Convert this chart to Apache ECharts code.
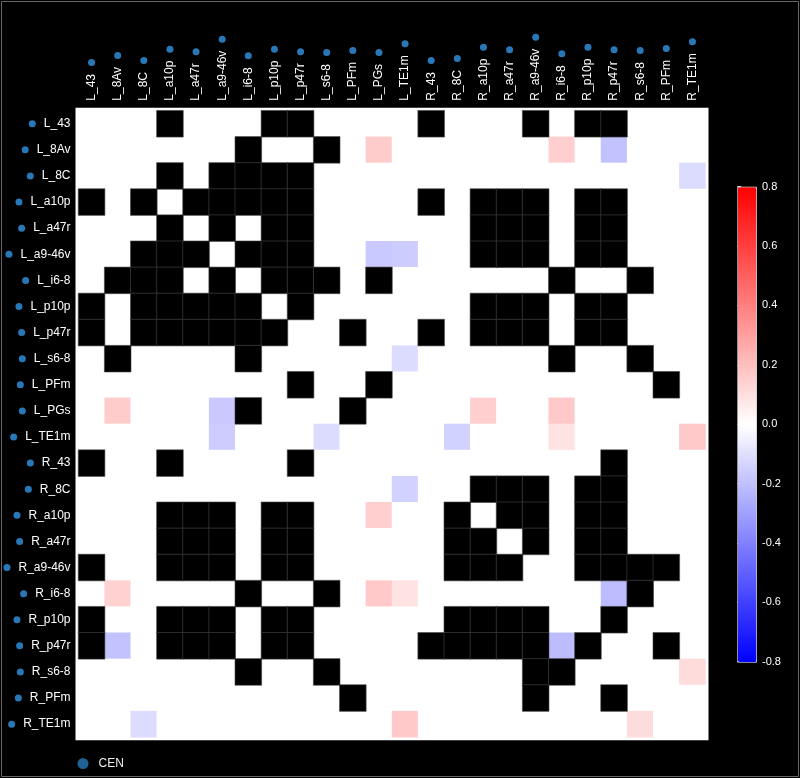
<!DOCTYPE html>
<html>
<head>
<meta charset="utf-8">
<script src="https://cdn.jsdelivr.net/npm/echarts@6/dist/echarts.min.js"></script>
<style>
  html, body { margin: 0; padding: 0; background: #000; }
  #chart { width: 800px; height: 778px; }
</style>
</head>
<body>
<div id="chart"></div>
<script>
// regions, same order on both axes
const regions = ['L_43', 'L_8Av', 'L_8C', 'L_a10p', 'L_a47r', 'L_a9-46v', 'L_i6-8', 'L_p10p', 'L_p47r',
  'L_s6-8', 'L_PFm', 'L_PGs', 'L_TE1m', 'R_43', 'R_8C', 'R_a10p', 'R_a47r', 'R_a9-46v', 'R_i6-8',
  'R_p10p', 'R_p47r', 'R_s6-8', 'R_PFm', 'R_TE1m'];

// black (masked) cells: for each row, the column indexes
const blackRows = [
  [3, 7, 8, 13, 17, 19, 20],
  [6, 9],
  [3, 5, 6, 7, 8],
  [0, 2, 4, 5, 6, 7, 8, 13, 15, 16, 17, 19, 20],
  [3, 5, 7, 8, 15, 16, 17, 19, 20],
  [2, 3, 4, 6, 7, 8, 15, 16, 17, 19, 20],
  [1, 2, 3, 5, 7, 8, 9, 11, 18, 21],
  [0, 2, 3, 4, 5, 6, 8, 15, 16, 17, 19, 20],
  [0, 2, 3, 4, 5, 6, 7, 10, 13, 15, 16, 17, 19, 20],
  [1, 6, 18, 21],
  [8, 11, 22],
  [6, 10],
  [],
  [0, 3, 8, 20],
  [15, 16, 17, 19, 20],
  [3, 4, 5, 7, 8, 14, 16, 17, 19, 20],
  [3, 4, 5, 7, 8, 14, 15, 17, 19, 20],
  [0, 3, 4, 5, 7, 8, 14, 15, 16, 19, 20, 21, 22],
  [6, 9, 21],
  [0, 3, 4, 5, 7, 8, 14, 15, 16, 17, 20],
  [0, 3, 4, 5, 7, 8, 13, 14, 15, 16, 17, 19, 22],
  [6, 9, 17, 18],
  [10, 17, 20],
  []
];

// non-zero values: [row, col, value]; every other unmasked cell is 0
const tinted = [
  [1, 11, 0.16], [1, 18, 0.15], [1, 20, -0.19],
  [2, 23, -0.11],
  [5, 11, -0.17], [5, 12, -0.16],
  [9, 12, -0.11],
  [11, 1, 0.16], [11, 5, -0.17], [11, 15, 0.15], [11, 18, 0.17],
  [12, 5, -0.16], [12, 9, -0.11], [12, 14, -0.14], [12, 18, 0.09], [12, 23, 0.17],
  [14, 12, -0.14],
  [15, 11, 0.15],
  [18, 1, 0.14], [18, 11, 0.17], [18, 12, 0.09], [18, 20, -0.21],
  [20, 1, -0.19], [20, 18, -0.21],
  [21, 23, 0.11],
  [23, 2, -0.11], [23, 12, 0.17], [23, 21, 0.11]
];

const legendName = 'CEN';
const dotColor = '#2878b8';
const fontFam = 'Liberation Sans, Arial, sans-serif';

// build heatmap data
var valueData = [];
var maskData = [];
for (var r = 0; r < regions.length; r++) {
  for (var c = 0; c < regions.length; c++) {
    if (blackRows[r].indexOf(c) >= 0) {
      maskData.push([c, r, 1]);
    } else {
      valueData.push([c, r, 0]);
    }
  }
}
tinted.forEach(function (t) {
  for (var i = 0; i < valueData.length; i++) {
    if (valueData[i][0] === t[1] && valueData[i][1] === t[0]) valueData[i][2] = t[2];
  }
});

var dotRich = {
  gap: { width: 8 },
  dot: { width: 7, height: 7, borderRadius: 3.5, backgroundColor: dotColor, verticalAlign: 'middle' }
};

var chart = echarts.init(document.getElementById('chart'));
var option = {
  backgroundColor: '#000',
  animation: false,
  textStyle: { fontFamily: fontFam },
  graphic: [{
    type: 'rect',
    shape: { x: 1.5, y: 1.5, width: 797, height: 775 },
    style: { fill: 'none', stroke: '#666', lineWidth: 1 },
    silent: true
  }],
  legend: {
    data: [legendName],
    icon: 'circle',
    left: 77.5,
    top: 757.5,
    padding: 0,
    itemWidth: 11,
    itemHeight: 11,
    textStyle: { color: '#eee', fontSize: 12, padding: [0, 0, 0, 5] }
  },
  grid: [
    { // heatmap
      left: 78.5, top: 110.7, width: 627, height: 626.5,
      show: true, backgroundColor: '#fff', borderColor: '#fff', borderWidth: 6,
      outerBoundsMode: 'none'
    },
    { // colour bar axis
      left: 737.3, top: 186.7, width: 18.7, height: 475,
      outerBoundsMode: 'none'
    }
  ],
  xAxis: [{
    type: 'category',
    data: regions,
    position: 'top',
    gridIndex: 0,
    axisLine: { show: false },
    axisTick: { show: false },
    splitLine: { show: false },
    axisLabel: {
      rotate: -90,   // top axis flips the sign: this reads bottom-to-top
      interval: 0,
      margin: 10,
      color: '#fff',
      fontSize: 12,
      formatter: function (v) { return v + '{gap|}{dot|}'; },
      rich: dotRich
    }
  }, {
    type: 'value', gridIndex: 1, show: false
  }],
  yAxis: [{
    type: 'category',
    data: regions,
    inverse: true,
    gridIndex: 0,
    axisLine: { show: false },
    axisTick: { show: false },
    splitLine: { show: false },
    axisLabel: {
      interval: 0,
      margin: 8,
      color: '#fff',
      fontSize: 12,
      formatter: function (v) { return '{dot|}{gap|}' + v; },
      rich: dotRich
    }
  }, {
    type: 'value',
    gridIndex: 1,
    position: 'right',
    min: -0.8,
    max: 0.8,
    interval: 0.2,
    axisLine: { show: false },
    splitLine: { show: false },
    axisTick: { show: true, length: 4, lineStyle: { color: '#ddd' } },
    axisLabel: {
      color: '#fff',
      fontSize: 11,
      margin: 6,
      formatter: function (v) { return v.toFixed(1); }
    }
  }],
  visualMap: {
    type: 'continuous',
    seriesIndex: 0,
    min: -0.8,
    max: 0.8,
    calculable: false,
    orient: 'vertical',
    left: 737.3,
    top: 186.7,
    itemWidth: 18.7,
    itemHeight: 475,
    padding: 0,
    text: null,
    borderColor: '#ccc',
    borderWidth: 1,
    inRange: { color: ['#0000ff', '#ffffff', '#ff0000'] }
  },
  series: [
    {
      type: 'heatmap',
      xAxisIndex: 0,
      yAxisIndex: 0,
      data: valueData,
      itemStyle: { borderWidth: 0 }
    },
    {
      type: 'heatmap',
      xAxisIndex: 0,
      yAxisIndex: 0,
      data: maskData,
      itemStyle: { color: '#000', borderColor: '#444', borderWidth: 0.6 }
    },
    {
      name: legendName,
      type: 'scatter',
      xAxisIndex: 0,
      yAxisIndex: 0,
      data: [],
      itemStyle: { color: dotColor }
    }
  ]
};
chart.setOption(option);
</script>
</body>
</html>
